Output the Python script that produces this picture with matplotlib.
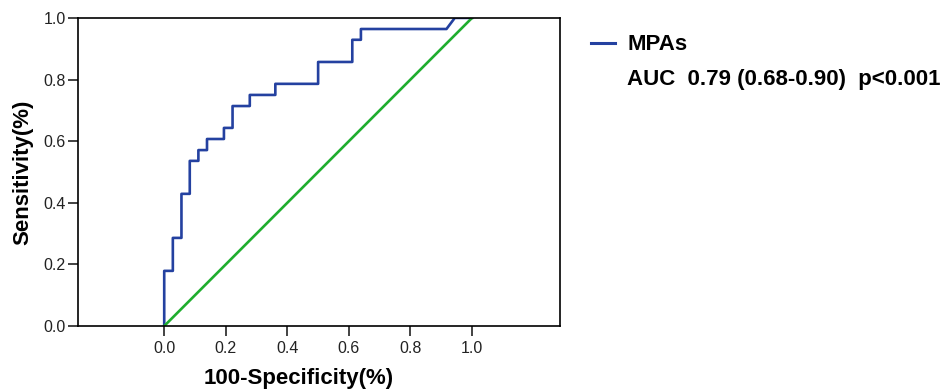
import matplotlib
matplotlib.use("Agg")
import matplotlib.pyplot as plt

plt.rcParams['font.family'] = ['Liberation Sans', 'DejaVu Sans']

# ROC curve vertices
fpr = [0.0, 0.0, 0.028, 0.028, 0.056, 0.056, 0.083, 0.083, 0.111, 0.111,
       0.139, 0.139, 0.194, 0.194, 0.222, 0.222, 0.278, 0.278, 0.361, 0.361,
       0.5, 0.5, 0.611, 0.611, 0.639, 0.639, 0.917, 0.944, 1.0]
tpr = [0.0, 0.179, 0.179, 0.286, 0.286, 0.429, 0.429, 0.536, 0.536, 0.571,
       0.571, 0.607, 0.607, 0.643, 0.643, 0.714, 0.714, 0.75, 0.75, 0.786,
       0.786, 0.857, 0.857, 0.929, 0.929, 0.964, 0.964, 1.0, 1.0]
ref_line = [0.0, 1.0]

ticks = [0.0, 0.2, 0.4, 0.6, 0.8, 1.0]
series_name = "MPAs"
auc_text = "AUC  0.79 (0.68-0.90)  p<0.001"

fig = plt.figure(figsize=(9.47, 3.91), dpi=100)
ax = fig.add_axes([0.0824, 0.1662, 0.509, 0.788])

ax.plot(fpr, tpr, color='#2441a0', lw=1.9, label=series_name)
ax.plot(ref_line, ref_line, color='#1fad2e', lw=1.9)

ax.set_xlim(-0.28, 1.286)
ax.set_ylim(0, 1)
ax.set_xticks(ticks)
ax.set_yticks(ticks)
ax.set_xticklabels(["%.1f" % t for t in ticks])
ax.set_yticklabels(["%.1f" % t for t in ticks])
ax.tick_params(axis='both', direction='out', length=7, width=1.2,
               labelsize=11.5, colors='#222222')
ax.tick_params(axis='x', pad=4)
ax.tick_params(axis='y', pad=2)
for s in ax.spines.values():
    s.set_linewidth(1.2)

ax.set_xlabel("100-Specificity(%)", fontsize=16, fontweight='bold')
ax.set_ylabel("Sensitivity(%)", fontsize=16, fontweight='bold')
ax.xaxis.set_label_coords(0.458, -0.135)
ax.yaxis.set_label_coords(-0.093, 0.5)

# legend drawn by hand
fig.lines.append(plt.Line2D([591 / 947, 615 / 947], [1 - 43 / 391, 1 - 43 / 391],
                            color='#2441a0', lw=2.2, transform=fig.transFigure))
fig.text(627 / 947, 1 - 45 / 391, series_name, fontsize=16, fontweight='bold',
         va='center', ha='left')
fig.text(627 / 947, 1 - 80 / 391, auc_text, fontsize=16, fontweight='bold',
         va='center', ha='left')

fig.savefig("out.png", dpi=100)
